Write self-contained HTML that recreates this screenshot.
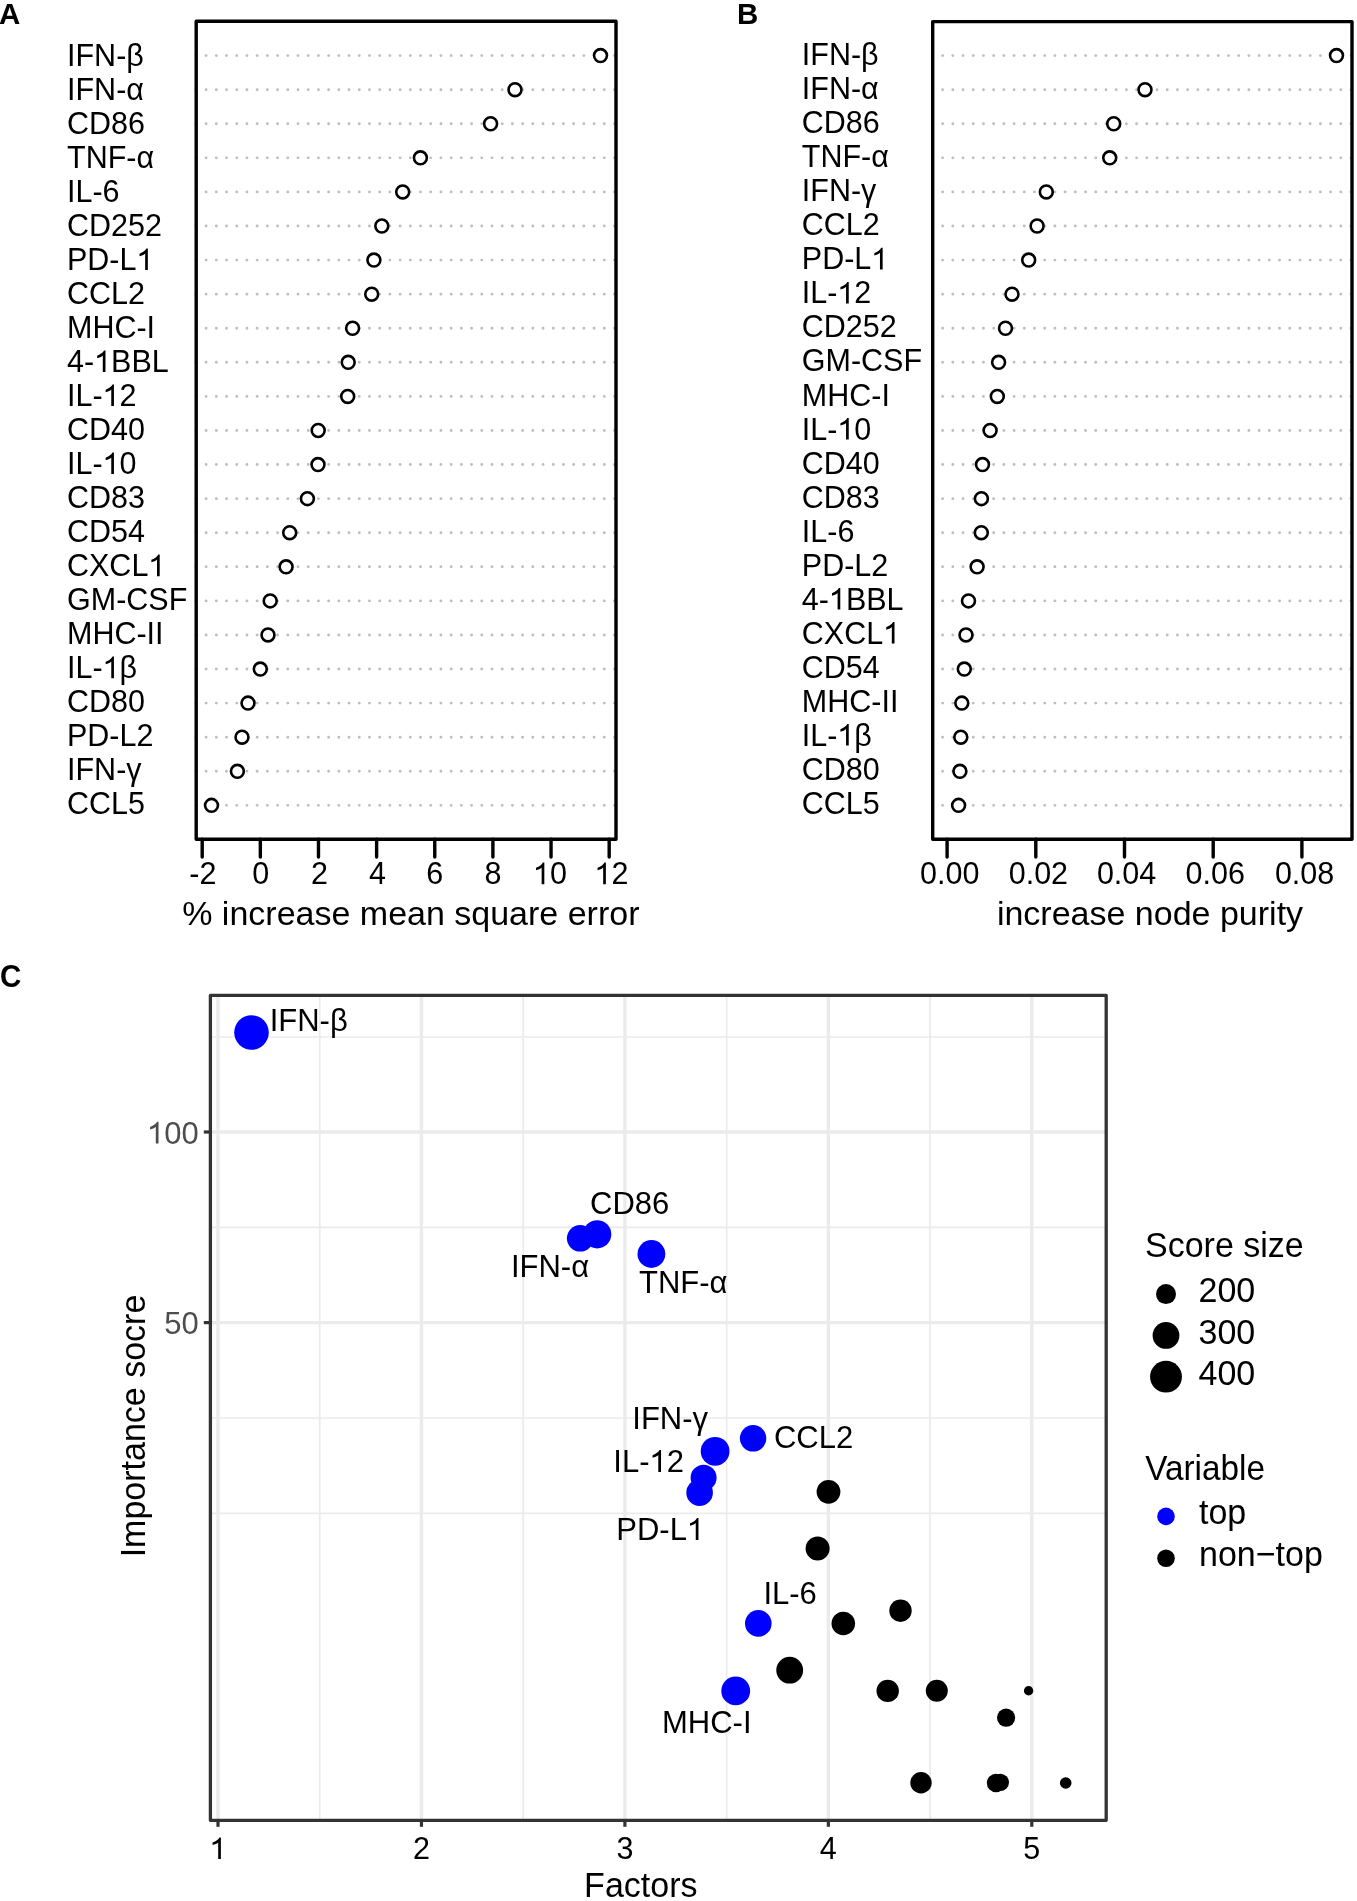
<!DOCTYPE html>
<html><head><meta charset="utf-8"><title>Variable importance</title>
<style>html,body{margin:0;padding:0;background:#fff;width:1357px;height:1901px;overflow:hidden}svg{display:block;will-change:transform}</style>
</head><body>
<svg width="1357" height="1901" viewBox="0 0 1357 1901" font-family='"Liberation Sans", sans-serif'>
<rect width="1357" height="1901" fill="#fff"/>
<text transform="translate(-1.00,24.00) scale(1,1.02)" font-size="29.5" font-weight="bold">A</text>
<text x="737" y="24" font-size="29.5" font-weight="bold">B</text>
<text transform="translate(0.00,987.00) scale(1,1.07)" font-size="29.5" font-weight="bold">C</text>
<line x1="195.90" y1="55.60" x2="616.00" y2="55.60" stroke="#bebebe" stroke-width="2.9" stroke-linecap="round" stroke-dasharray="0 10.21"/>
<line x1="195.90" y1="89.68" x2="616.00" y2="89.68" stroke="#bebebe" stroke-width="2.9" stroke-linecap="round" stroke-dasharray="0 10.21"/>
<line x1="195.90" y1="123.76" x2="616.00" y2="123.76" stroke="#bebebe" stroke-width="2.9" stroke-linecap="round" stroke-dasharray="0 10.21"/>
<line x1="195.90" y1="157.84" x2="616.00" y2="157.84" stroke="#bebebe" stroke-width="2.9" stroke-linecap="round" stroke-dasharray="0 10.21"/>
<line x1="195.90" y1="191.92" x2="616.00" y2="191.92" stroke="#bebebe" stroke-width="2.9" stroke-linecap="round" stroke-dasharray="0 10.21"/>
<line x1="195.90" y1="226.00" x2="616.00" y2="226.00" stroke="#bebebe" stroke-width="2.9" stroke-linecap="round" stroke-dasharray="0 10.21"/>
<line x1="195.90" y1="260.08" x2="616.00" y2="260.08" stroke="#bebebe" stroke-width="2.9" stroke-linecap="round" stroke-dasharray="0 10.21"/>
<line x1="195.90" y1="294.16" x2="616.00" y2="294.16" stroke="#bebebe" stroke-width="2.9" stroke-linecap="round" stroke-dasharray="0 10.21"/>
<line x1="195.90" y1="328.24" x2="616.00" y2="328.24" stroke="#bebebe" stroke-width="2.9" stroke-linecap="round" stroke-dasharray="0 10.21"/>
<line x1="195.90" y1="362.32" x2="616.00" y2="362.32" stroke="#bebebe" stroke-width="2.9" stroke-linecap="round" stroke-dasharray="0 10.21"/>
<line x1="195.90" y1="396.40" x2="616.00" y2="396.40" stroke="#bebebe" stroke-width="2.9" stroke-linecap="round" stroke-dasharray="0 10.21"/>
<line x1="195.90" y1="430.48" x2="616.00" y2="430.48" stroke="#bebebe" stroke-width="2.9" stroke-linecap="round" stroke-dasharray="0 10.21"/>
<line x1="195.90" y1="464.56" x2="616.00" y2="464.56" stroke="#bebebe" stroke-width="2.9" stroke-linecap="round" stroke-dasharray="0 10.21"/>
<line x1="195.90" y1="498.64" x2="616.00" y2="498.64" stroke="#bebebe" stroke-width="2.9" stroke-linecap="round" stroke-dasharray="0 10.21"/>
<line x1="195.90" y1="532.72" x2="616.00" y2="532.72" stroke="#bebebe" stroke-width="2.9" stroke-linecap="round" stroke-dasharray="0 10.21"/>
<line x1="195.90" y1="566.80" x2="616.00" y2="566.80" stroke="#bebebe" stroke-width="2.9" stroke-linecap="round" stroke-dasharray="0 10.21"/>
<line x1="195.90" y1="600.88" x2="616.00" y2="600.88" stroke="#bebebe" stroke-width="2.9" stroke-linecap="round" stroke-dasharray="0 10.21"/>
<line x1="195.90" y1="634.96" x2="616.00" y2="634.96" stroke="#bebebe" stroke-width="2.9" stroke-linecap="round" stroke-dasharray="0 10.21"/>
<line x1="195.90" y1="669.04" x2="616.00" y2="669.04" stroke="#bebebe" stroke-width="2.9" stroke-linecap="round" stroke-dasharray="0 10.21"/>
<line x1="195.90" y1="703.12" x2="616.00" y2="703.12" stroke="#bebebe" stroke-width="2.9" stroke-linecap="round" stroke-dasharray="0 10.21"/>
<line x1="195.90" y1="737.20" x2="616.00" y2="737.20" stroke="#bebebe" stroke-width="2.9" stroke-linecap="round" stroke-dasharray="0 10.21"/>
<line x1="195.90" y1="771.28" x2="616.00" y2="771.28" stroke="#bebebe" stroke-width="2.9" stroke-linecap="round" stroke-dasharray="0 10.21"/>
<line x1="195.90" y1="805.36" x2="616.00" y2="805.36" stroke="#bebebe" stroke-width="2.9" stroke-linecap="round" stroke-dasharray="0 10.21"/>
<circle cx="600.50" cy="55.60" r="6.45" fill="#fff" stroke="#000" stroke-width="2.6"/>
<circle cx="515.00" cy="89.68" r="6.45" fill="#fff" stroke="#000" stroke-width="2.6"/>
<circle cx="490.60" cy="123.76" r="6.45" fill="#fff" stroke="#000" stroke-width="2.6"/>
<circle cx="420.40" cy="157.84" r="6.45" fill="#fff" stroke="#000" stroke-width="2.6"/>
<circle cx="402.70" cy="191.92" r="6.45" fill="#fff" stroke="#000" stroke-width="2.6"/>
<circle cx="381.80" cy="226.00" r="6.45" fill="#fff" stroke="#000" stroke-width="2.6"/>
<circle cx="373.90" cy="260.08" r="6.45" fill="#fff" stroke="#000" stroke-width="2.6"/>
<circle cx="371.70" cy="294.16" r="6.45" fill="#fff" stroke="#000" stroke-width="2.6"/>
<circle cx="352.60" cy="328.24" r="6.45" fill="#fff" stroke="#000" stroke-width="2.6"/>
<circle cx="348.20" cy="362.32" r="6.45" fill="#fff" stroke="#000" stroke-width="2.6"/>
<circle cx="347.70" cy="396.40" r="6.45" fill="#fff" stroke="#000" stroke-width="2.6"/>
<circle cx="318.20" cy="430.48" r="6.45" fill="#fff" stroke="#000" stroke-width="2.6"/>
<circle cx="318.00" cy="464.56" r="6.45" fill="#fff" stroke="#000" stroke-width="2.6"/>
<circle cx="307.40" cy="498.64" r="6.45" fill="#fff" stroke="#000" stroke-width="2.6"/>
<circle cx="289.70" cy="532.72" r="6.45" fill="#fff" stroke="#000" stroke-width="2.6"/>
<circle cx="286.10" cy="566.80" r="6.45" fill="#fff" stroke="#000" stroke-width="2.6"/>
<circle cx="270.20" cy="600.88" r="6.45" fill="#fff" stroke="#000" stroke-width="2.6"/>
<circle cx="268.00" cy="634.96" r="6.45" fill="#fff" stroke="#000" stroke-width="2.6"/>
<circle cx="260.30" cy="669.04" r="6.45" fill="#fff" stroke="#000" stroke-width="2.6"/>
<circle cx="248.00" cy="703.12" r="6.45" fill="#fff" stroke="#000" stroke-width="2.6"/>
<circle cx="242.00" cy="737.20" r="6.45" fill="#fff" stroke="#000" stroke-width="2.6"/>
<circle cx="237.40" cy="771.28" r="6.45" fill="#fff" stroke="#000" stroke-width="2.6"/>
<circle cx="211.50" cy="805.36" r="6.45" fill="#fff" stroke="#000" stroke-width="2.6"/>
<rect x="196.20" y="21.30" width="419.80" height="818.00" fill="none" stroke="#000" stroke-width="3.4" stroke-linejoin="round"/>
<text x="67.00" y="66.00" font-size="30.5">IFN-β</text>
<text x="67.00" y="100.01" font-size="30.5">IFN-α</text>
<text x="67.00" y="134.02" font-size="30.5">CD86</text>
<text x="67.00" y="168.03" font-size="30.5">TNF-α</text>
<text x="67.00" y="202.04" font-size="30.5">IL-6</text>
<text x="67.00" y="236.05" font-size="30.5">CD252</text>
<text x="67.00" y="270.06" font-size="30.5">PD-L </text>
<text x="67.00" y="304.07" font-size="30.5">CCL2</text>
<text x="67.00" y="338.08" font-size="30.5">MHC-I</text>
<text x="67.00" y="372.09" font-size="30.5">4- BBL</text>
<text x="67.00" y="406.10" font-size="30.5">IL- 2</text>
<text x="67.00" y="440.11" font-size="30.5">CD40</text>
<text x="67.00" y="474.12" font-size="30.5">IL- 0</text>
<text x="67.00" y="508.13" font-size="30.5">CD83</text>
<text x="67.00" y="542.14" font-size="30.5">CD54</text>
<text x="67.00" y="576.15" font-size="30.5">CXCL </text>
<text x="67.00" y="610.16" font-size="30.5">GM-CSF</text>
<text x="67.00" y="644.17" font-size="30.5">MHC-II</text>
<text x="67.00" y="678.18" font-size="30.5">IL- β</text>
<text x="67.00" y="712.19" font-size="30.5">CD80</text>
<text x="67.00" y="746.20" font-size="30.5">PD-L2</text>
<text x="67.00" y="780.21" font-size="30.5">IFN-γ</text>
<text x="67.00" y="814.22" font-size="30.5">CCL5</text>
<line x1="202.20" y1="839.30" x2="202.20" y2="857" stroke="#000" stroke-width="3.4" stroke-linecap="round"/>
<text x="202.80" y="884.2" font-size="30.5" text-anchor="middle">-2</text>
<line x1="260.34" y1="839.30" x2="260.34" y2="857" stroke="#000" stroke-width="3.4" stroke-linecap="round"/>
<text x="260.84" y="884.2" font-size="30.5" text-anchor="middle">0</text>
<line x1="318.48" y1="839.30" x2="318.48" y2="857" stroke="#000" stroke-width="3.4" stroke-linecap="round"/>
<text x="319.38" y="884.2" font-size="30.5" text-anchor="middle">2</text>
<line x1="376.62" y1="839.30" x2="376.62" y2="857" stroke="#000" stroke-width="3.4" stroke-linecap="round"/>
<text x="377.52" y="884.2" font-size="30.5" text-anchor="middle">4</text>
<line x1="434.76" y1="839.30" x2="434.76" y2="857" stroke="#000" stroke-width="3.4" stroke-linecap="round"/>
<text x="434.76" y="884.2" font-size="30.5" text-anchor="middle">6</text>
<line x1="492.90" y1="839.30" x2="492.90" y2="857" stroke="#000" stroke-width="3.4" stroke-linecap="round"/>
<text x="492.90" y="884.2" font-size="30.5" text-anchor="middle">8</text>
<line x1="551.04" y1="839.30" x2="551.04" y2="857" stroke="#000" stroke-width="3.4" stroke-linecap="round"/>
<text x="549.94" y="884.2" font-size="30.5" text-anchor="middle"> 0</text>
<line x1="609.18" y1="839.30" x2="609.18" y2="857" stroke="#000" stroke-width="3.4" stroke-linecap="round"/>
<text x="611.48" y="884.2" font-size="30.5" text-anchor="middle"> 2</text>
<text x="410.85" y="925.3" font-size="34" text-anchor="middle">% increase mean square error</text>
<line x1="932.40" y1="55.60" x2="1352.00" y2="55.60" stroke="#bebebe" stroke-width="2.9" stroke-linecap="round" stroke-dasharray="0 10.21"/>
<line x1="932.40" y1="89.68" x2="1352.00" y2="89.68" stroke="#bebebe" stroke-width="2.9" stroke-linecap="round" stroke-dasharray="0 10.21"/>
<line x1="932.40" y1="123.76" x2="1352.00" y2="123.76" stroke="#bebebe" stroke-width="2.9" stroke-linecap="round" stroke-dasharray="0 10.21"/>
<line x1="932.40" y1="157.84" x2="1352.00" y2="157.84" stroke="#bebebe" stroke-width="2.9" stroke-linecap="round" stroke-dasharray="0 10.21"/>
<line x1="932.40" y1="191.92" x2="1352.00" y2="191.92" stroke="#bebebe" stroke-width="2.9" stroke-linecap="round" stroke-dasharray="0 10.21"/>
<line x1="932.40" y1="226.00" x2="1352.00" y2="226.00" stroke="#bebebe" stroke-width="2.9" stroke-linecap="round" stroke-dasharray="0 10.21"/>
<line x1="932.40" y1="260.08" x2="1352.00" y2="260.08" stroke="#bebebe" stroke-width="2.9" stroke-linecap="round" stroke-dasharray="0 10.21"/>
<line x1="932.40" y1="294.16" x2="1352.00" y2="294.16" stroke="#bebebe" stroke-width="2.9" stroke-linecap="round" stroke-dasharray="0 10.21"/>
<line x1="932.40" y1="328.24" x2="1352.00" y2="328.24" stroke="#bebebe" stroke-width="2.9" stroke-linecap="round" stroke-dasharray="0 10.21"/>
<line x1="932.40" y1="362.32" x2="1352.00" y2="362.32" stroke="#bebebe" stroke-width="2.9" stroke-linecap="round" stroke-dasharray="0 10.21"/>
<line x1="932.40" y1="396.40" x2="1352.00" y2="396.40" stroke="#bebebe" stroke-width="2.9" stroke-linecap="round" stroke-dasharray="0 10.21"/>
<line x1="932.40" y1="430.48" x2="1352.00" y2="430.48" stroke="#bebebe" stroke-width="2.9" stroke-linecap="round" stroke-dasharray="0 10.21"/>
<line x1="932.40" y1="464.56" x2="1352.00" y2="464.56" stroke="#bebebe" stroke-width="2.9" stroke-linecap="round" stroke-dasharray="0 10.21"/>
<line x1="932.40" y1="498.64" x2="1352.00" y2="498.64" stroke="#bebebe" stroke-width="2.9" stroke-linecap="round" stroke-dasharray="0 10.21"/>
<line x1="932.40" y1="532.72" x2="1352.00" y2="532.72" stroke="#bebebe" stroke-width="2.9" stroke-linecap="round" stroke-dasharray="0 10.21"/>
<line x1="932.40" y1="566.80" x2="1352.00" y2="566.80" stroke="#bebebe" stroke-width="2.9" stroke-linecap="round" stroke-dasharray="0 10.21"/>
<line x1="932.40" y1="600.88" x2="1352.00" y2="600.88" stroke="#bebebe" stroke-width="2.9" stroke-linecap="round" stroke-dasharray="0 10.21"/>
<line x1="932.40" y1="634.96" x2="1352.00" y2="634.96" stroke="#bebebe" stroke-width="2.9" stroke-linecap="round" stroke-dasharray="0 10.21"/>
<line x1="932.40" y1="669.04" x2="1352.00" y2="669.04" stroke="#bebebe" stroke-width="2.9" stroke-linecap="round" stroke-dasharray="0 10.21"/>
<line x1="932.40" y1="703.12" x2="1352.00" y2="703.12" stroke="#bebebe" stroke-width="2.9" stroke-linecap="round" stroke-dasharray="0 10.21"/>
<line x1="932.40" y1="737.20" x2="1352.00" y2="737.20" stroke="#bebebe" stroke-width="2.9" stroke-linecap="round" stroke-dasharray="0 10.21"/>
<line x1="932.40" y1="771.28" x2="1352.00" y2="771.28" stroke="#bebebe" stroke-width="2.9" stroke-linecap="round" stroke-dasharray="0 10.21"/>
<line x1="932.40" y1="805.36" x2="1352.00" y2="805.36" stroke="#bebebe" stroke-width="2.9" stroke-linecap="round" stroke-dasharray="0 10.21"/>
<circle cx="1336.50" cy="55.60" r="6.45" fill="#fff" stroke="#000" stroke-width="2.6"/>
<circle cx="1145.00" cy="89.68" r="6.45" fill="#fff" stroke="#000" stroke-width="2.6"/>
<circle cx="1113.70" cy="123.76" r="6.45" fill="#fff" stroke="#000" stroke-width="2.6"/>
<circle cx="1109.70" cy="157.84" r="6.45" fill="#fff" stroke="#000" stroke-width="2.6"/>
<circle cx="1046.30" cy="191.92" r="6.45" fill="#fff" stroke="#000" stroke-width="2.6"/>
<circle cx="1037.10" cy="226.00" r="6.45" fill="#fff" stroke="#000" stroke-width="2.6"/>
<circle cx="1028.70" cy="260.08" r="6.45" fill="#fff" stroke="#000" stroke-width="2.6"/>
<circle cx="1012.00" cy="294.16" r="6.45" fill="#fff" stroke="#000" stroke-width="2.6"/>
<circle cx="1005.50" cy="328.24" r="6.45" fill="#fff" stroke="#000" stroke-width="2.6"/>
<circle cx="998.60" cy="362.32" r="6.45" fill="#fff" stroke="#000" stroke-width="2.6"/>
<circle cx="997.30" cy="396.40" r="6.45" fill="#fff" stroke="#000" stroke-width="2.6"/>
<circle cx="990.10" cy="430.48" r="6.45" fill="#fff" stroke="#000" stroke-width="2.6"/>
<circle cx="982.50" cy="464.56" r="6.45" fill="#fff" stroke="#000" stroke-width="2.6"/>
<circle cx="981.40" cy="498.64" r="6.45" fill="#fff" stroke="#000" stroke-width="2.6"/>
<circle cx="981.30" cy="532.72" r="6.45" fill="#fff" stroke="#000" stroke-width="2.6"/>
<circle cx="977.10" cy="566.80" r="6.45" fill="#fff" stroke="#000" stroke-width="2.6"/>
<circle cx="968.50" cy="600.88" r="6.45" fill="#fff" stroke="#000" stroke-width="2.6"/>
<circle cx="966.00" cy="634.96" r="6.45" fill="#fff" stroke="#000" stroke-width="2.6"/>
<circle cx="964.30" cy="669.04" r="6.45" fill="#fff" stroke="#000" stroke-width="2.6"/>
<circle cx="961.80" cy="703.12" r="6.45" fill="#fff" stroke="#000" stroke-width="2.6"/>
<circle cx="960.80" cy="737.20" r="6.45" fill="#fff" stroke="#000" stroke-width="2.6"/>
<circle cx="959.90" cy="771.28" r="6.45" fill="#fff" stroke="#000" stroke-width="2.6"/>
<circle cx="958.60" cy="805.36" r="6.45" fill="#fff" stroke="#000" stroke-width="2.6"/>
<rect x="932.70" y="21.60" width="419.30" height="817.60" fill="none" stroke="#000" stroke-width="3.4" stroke-linejoin="round"/>
<text x="801.80" y="65.40" font-size="30.5">IFN-β</text>
<text x="801.80" y="99.41" font-size="30.5">IFN-α</text>
<text x="801.80" y="133.42" font-size="30.5">CD86</text>
<text x="801.80" y="167.43" font-size="30.5">TNF-α</text>
<text x="801.80" y="201.44" font-size="30.5">IFN-γ</text>
<text x="801.80" y="235.45" font-size="30.5">CCL2</text>
<text x="801.80" y="269.46" font-size="30.5">PD-L </text>
<text x="801.80" y="303.47" font-size="30.5">IL- 2</text>
<text x="801.80" y="337.48" font-size="30.5">CD252</text>
<text x="801.80" y="371.49" font-size="30.5">GM-CSF</text>
<text x="801.80" y="405.50" font-size="30.5">MHC-I</text>
<text x="801.80" y="439.51" font-size="30.5">IL- 0</text>
<text x="801.80" y="473.52" font-size="30.5">CD40</text>
<text x="801.80" y="507.53" font-size="30.5">CD83</text>
<text x="801.80" y="541.54" font-size="30.5">IL-6</text>
<text x="801.80" y="575.55" font-size="30.5">PD-L2</text>
<text x="801.80" y="609.56" font-size="30.5">4- BBL</text>
<text x="801.80" y="643.57" font-size="30.5">CXCL </text>
<text x="801.80" y="677.58" font-size="30.5">CD54</text>
<text x="801.80" y="711.59" font-size="30.5">MHC-II</text>
<text x="801.80" y="745.60" font-size="30.5">IL- β</text>
<text x="801.80" y="779.61" font-size="30.5">CD80</text>
<text x="801.80" y="813.62" font-size="30.5">CCL5</text>
<line x1="947.10" y1="839.20" x2="947.10" y2="857" stroke="#000" stroke-width="3.4" stroke-linecap="round"/>
<text x="949.70" y="884.2" font-size="30.5" text-anchor="middle">0.00</text>
<line x1="1035.80" y1="839.20" x2="1035.80" y2="857" stroke="#000" stroke-width="3.4" stroke-linecap="round"/>
<text x="1038.40" y="884.2" font-size="30.5" text-anchor="middle">0.02</text>
<line x1="1124.50" y1="839.20" x2="1124.50" y2="857" stroke="#000" stroke-width="3.4" stroke-linecap="round"/>
<text x="1126.60" y="884.2" font-size="30.5" text-anchor="middle">0.04</text>
<line x1="1213.20" y1="839.20" x2="1213.20" y2="857" stroke="#000" stroke-width="3.4" stroke-linecap="round"/>
<text x="1215.30" y="884.2" font-size="30.5" text-anchor="middle">0.06</text>
<line x1="1301.90" y1="839.20" x2="1301.90" y2="857" stroke="#000" stroke-width="3.4" stroke-linecap="round"/>
<text x="1304.60" y="884.2" font-size="30.5" text-anchor="middle">0.08</text>
<text x="1150.00" y="925.3" font-size="34" text-anchor="middle">increase node purity</text>
<line x1="319.73" y1="995.3" x2="319.73" y2="1820.3" stroke="#ebebeb" stroke-width="1.7"/>
<line x1="523.17" y1="995.3" x2="523.17" y2="1820.3" stroke="#ebebeb" stroke-width="1.7"/>
<line x1="726.62" y1="995.3" x2="726.62" y2="1820.3" stroke="#ebebeb" stroke-width="1.7"/>
<line x1="930.07" y1="995.3" x2="930.07" y2="1820.3" stroke="#ebebeb" stroke-width="1.7"/>
<line x1="210.4" y1="1037.0" x2="1106.2" y2="1037.0" stroke="#ebebeb" stroke-width="1.7"/>
<line x1="210.4" y1="1227.3" x2="1106.2" y2="1227.3" stroke="#ebebeb" stroke-width="1.7"/>
<line x1="210.4" y1="1418.0" x2="1106.2" y2="1418.0" stroke="#ebebeb" stroke-width="1.7"/>
<line x1="210.4" y1="1513.4" x2="1106.2" y2="1513.4" stroke="#ebebeb" stroke-width="1.7"/>
<line x1="218.00" y1="995.3" x2="218.00" y2="1820.3" stroke="#ebebeb" stroke-width="3.4"/>
<line x1="421.45" y1="995.3" x2="421.45" y2="1820.3" stroke="#ebebeb" stroke-width="3.4"/>
<line x1="624.90" y1="995.3" x2="624.90" y2="1820.3" stroke="#ebebeb" stroke-width="3.4"/>
<line x1="828.35" y1="995.3" x2="828.35" y2="1820.3" stroke="#ebebeb" stroke-width="3.4"/>
<line x1="1031.80" y1="995.3" x2="1031.80" y2="1820.3" stroke="#ebebeb" stroke-width="3.4"/>
<line x1="210.4" y1="1132.0" x2="1106.2" y2="1132.0" stroke="#ebebeb" stroke-width="3.4"/>
<line x1="210.4" y1="1322.6" x2="1106.2" y2="1322.6" stroke="#ebebeb" stroke-width="3.4"/>
<circle cx="251.5" cy="1032.5" r="17.3" fill="#0000ff"/>
<circle cx="580.2" cy="1238.3" r="13.3" fill="#0000ff"/>
<circle cx="597.2" cy="1234.3" r="14.1" fill="#0000ff"/>
<circle cx="651.4" cy="1254.0" r="13.9" fill="#0000ff"/>
<circle cx="753.1" cy="1438.3" r="13.2" fill="#0000ff"/>
<circle cx="715.1" cy="1451.3" r="14.4" fill="#0000ff"/>
<circle cx="703.6" cy="1477.7" r="13.0" fill="#0000ff"/>
<circle cx="699.6" cy="1492.7" r="13.3" fill="#0000ff"/>
<circle cx="828.5" cy="1491.8" r="11.9" fill="#000"/>
<circle cx="817.6" cy="1548.5" r="12.0" fill="#000"/>
<circle cx="758.3" cy="1623.4" r="13.3" fill="#0000ff"/>
<circle cx="843.3" cy="1623.5" r="11.8" fill="#000"/>
<circle cx="900.5" cy="1610.7" r="11.2" fill="#000"/>
<circle cx="789.7" cy="1670.2" r="13.4" fill="#000"/>
<circle cx="735.7" cy="1690.9" r="14.4" fill="#0000ff"/>
<circle cx="887.7" cy="1690.9" r="11.2" fill="#000"/>
<circle cx="936.8" cy="1690.7" r="11.0" fill="#000"/>
<circle cx="1028.6" cy="1690.8" r="4.7" fill="#000"/>
<circle cx="1006.1" cy="1717.7" r="9.1" fill="#000"/>
<circle cx="921.0" cy="1782.7" r="10.7" fill="#000"/>
<circle cx="996.0" cy="1783.0" r="9.2" fill="#000"/>
<circle cx="1000.3" cy="1782.4" r="8.7" fill="#000"/>
<circle cx="1065.7" cy="1783.0" r="5.8" fill="#000"/>
<text x="269.70" y="1031.00" font-size="31">IFN-β</text>
<text x="590.00" y="1214.40" font-size="31">CD86</text>
<text x="510.90" y="1277.30" font-size="31">IFN-α</text>
<text x="639.00" y="1292.80" font-size="31">TNF-α</text>
<text x="632.30" y="1428.60" font-size="31">IFN-γ</text>
<text x="773.90" y="1448.40" font-size="31">CCL2</text>
<text x="613.30" y="1471.90" font-size="31">IL- 2</text>
<text x="616.30" y="1540.00" font-size="31">PD-L </text>
<text x="763.40" y="1604.20" font-size="31">IL-6</text>
<text x="662.00" y="1732.70" font-size="31">MHC-I</text>
<rect x="210.4" y="995.3" width="895.80" height="825.00" fill="none" stroke="#333" stroke-width="3.3" stroke-linejoin="round"/>
<line x1="203.8" y1="1132.0" x2="210.4" y2="1132.0" stroke="#333" stroke-width="3.2"/>
<text x="198.7" y="1143.60" font-size="31" fill="#4d4d4d" text-anchor="end"> 00</text>
<line x1="203.8" y1="1322.6" x2="210.4" y2="1322.6" stroke="#333" stroke-width="3.2"/>
<text x="198.7" y="1334.20" font-size="31" fill="#4d4d4d" text-anchor="end">50</text>
<line x1="218.00" y1="1820.3" x2="218.00" y2="1826.8" stroke="#333" stroke-width="3.2"/>
<text x="218.00" y="1859" font-size="30.5" text-anchor="middle"> </text>
<line x1="421.45" y1="1820.3" x2="421.45" y2="1826.8" stroke="#333" stroke-width="3.2"/>
<text x="421.45" y="1859" font-size="30.5" text-anchor="middle">2</text>
<line x1="624.90" y1="1820.3" x2="624.90" y2="1826.8" stroke="#333" stroke-width="3.2"/>
<text x="624.90" y="1859" font-size="30.5" text-anchor="middle">3</text>
<line x1="828.35" y1="1820.3" x2="828.35" y2="1826.8" stroke="#333" stroke-width="3.2"/>
<text x="828.35" y="1859" font-size="30.5" text-anchor="middle">4</text>
<line x1="1031.80" y1="1820.3" x2="1031.80" y2="1826.8" stroke="#333" stroke-width="3.2"/>
<text x="1031.80" y="1859" font-size="30.5" text-anchor="middle">5</text>
<text transform="translate(640.80,1896.60) scale(1,1.05)" font-size="34" text-anchor="middle">Factors</text>
<text transform="translate(145.00,1426.00) rotate(-90) scale(1,1.05)" font-size="34" text-anchor="middle">Importance socre</text>
<text transform="translate(1145.00,1257.10) scale(1,1.05)" font-size="34">Score size</text>
<circle cx="1166" cy="1294.1" r="10.0" fill="#000"/>
<text transform="translate(1198.50,1302.40) scale(1,1.05)" font-size="34">200</text>
<circle cx="1166" cy="1335.4" r="13.4" fill="#000"/>
<text transform="translate(1198.50,1343.70) scale(1,1.05)" font-size="34">300</text>
<circle cx="1166" cy="1376.7" r="15.9" fill="#000"/>
<text transform="translate(1198.50,1385.00) scale(1,1.05)" font-size="34">400</text>
<text transform="translate(1145.30,1479.80) scale(1,1.05)" font-size="33.3">Variable</text>
<circle cx="1166" cy="1516.4" r="8.8" fill="#0000ff"/>
<text transform="translate(1199.00,1523.60) scale(1,1.05)" font-size="34">top</text>
<circle cx="1166" cy="1558.3" r="8.8" fill="#000"/>
<text transform="translate(1199.00,1565.50) scale(1,1.05)" font-size="34">non−top</text>
<path transform="matrix(1.0000 0.0000 0.0000 1.0000 0.0000 0.0000) translate(136.48,270.06) scale(0.01489,-0.01489)" fill="#000" d="M763 0H583V1116Q518 1055 412 1000Q306 955 205 935V1100Q381 1160 499 1260Q617 1360 666 1450H763Z"/>
<path transform="matrix(1.0000 0.0000 0.0000 1.0000 0.0000 0.0000) translate(94.11,372.09) scale(0.01489,-0.01489)" fill="#000" d="M763 0H583V1116Q518 1055 412 1000Q306 955 205 935V1100Q381 1160 499 1260Q617 1360 666 1450H763Z"/>
<path transform="matrix(1.0000 0.0000 0.0000 1.0000 0.0000 0.0000) translate(102.58,406.10) scale(0.01489,-0.01489)" fill="#000" d="M763 0H583V1116Q518 1055 412 1000Q306 955 205 935V1100Q381 1160 499 1260Q617 1360 666 1450H763Z"/>
<path transform="matrix(1.0000 0.0000 0.0000 1.0000 0.0000 0.0000) translate(102.58,474.12) scale(0.01489,-0.01489)" fill="#000" d="M763 0H583V1116Q518 1055 412 1000Q306 955 205 935V1100Q381 1160 499 1260Q617 1360 666 1450H763Z"/>
<path transform="matrix(1.0000 0.0000 0.0000 1.0000 0.0000 0.0000) translate(148.34,576.15) scale(0.01489,-0.01489)" fill="#000" d="M763 0H583V1116Q518 1055 412 1000Q306 955 205 935V1100Q381 1160 499 1260Q617 1360 666 1450H763Z"/>
<path transform="matrix(1.0000 0.0000 0.0000 1.0000 0.0000 0.0000) translate(102.58,678.18) scale(0.01489,-0.01489)" fill="#000" d="M763 0H583V1116Q518 1055 412 1000Q306 955 205 935V1100Q381 1160 499 1260Q617 1360 666 1450H763Z"/>
<path transform="matrix(1.0000 0.0000 0.0000 1.0000 0.0000 0.0000) translate(532.97,884.20) scale(0.01489,-0.01489)" fill="#000" d="M763 0H583V1116Q518 1055 412 1000Q306 955 205 935V1100Q381 1160 499 1260Q617 1360 666 1450H763Z"/>
<path transform="matrix(1.0000 0.0000 0.0000 1.0000 0.0000 0.0000) translate(594.51,884.20) scale(0.01489,-0.01489)" fill="#000" d="M763 0H583V1116Q518 1055 412 1000Q306 955 205 935V1100Q381 1160 499 1260Q617 1360 666 1450H763Z"/>
<path transform="matrix(1.0000 0.0000 0.0000 1.0000 0.0000 0.0000) translate(871.28,269.46) scale(0.01489,-0.01489)" fill="#000" d="M763 0H583V1116Q518 1055 412 1000Q306 955 205 935V1100Q381 1160 499 1260Q617 1360 666 1450H763Z"/>
<path transform="matrix(1.0000 0.0000 0.0000 1.0000 0.0000 0.0000) translate(837.38,303.47) scale(0.01489,-0.01489)" fill="#000" d="M763 0H583V1116Q518 1055 412 1000Q306 955 205 935V1100Q381 1160 499 1260Q617 1360 666 1450H763Z"/>
<path transform="matrix(1.0000 0.0000 0.0000 1.0000 0.0000 0.0000) translate(837.38,439.51) scale(0.01489,-0.01489)" fill="#000" d="M763 0H583V1116Q518 1055 412 1000Q306 955 205 935V1100Q381 1160 499 1260Q617 1360 666 1450H763Z"/>
<path transform="matrix(1.0000 0.0000 0.0000 1.0000 0.0000 0.0000) translate(828.91,609.56) scale(0.01489,-0.01489)" fill="#000" d="M763 0H583V1116Q518 1055 412 1000Q306 955 205 935V1100Q381 1160 499 1260Q617 1360 666 1450H763Z"/>
<path transform="matrix(1.0000 0.0000 0.0000 1.0000 0.0000 0.0000) translate(883.14,643.57) scale(0.01489,-0.01489)" fill="#000" d="M763 0H583V1116Q518 1055 412 1000Q306 955 205 935V1100Q381 1160 499 1260Q617 1360 666 1450H763Z"/>
<path transform="matrix(1.0000 0.0000 0.0000 1.0000 0.0000 0.0000) translate(837.38,745.60) scale(0.01489,-0.01489)" fill="#000" d="M763 0H583V1116Q518 1055 412 1000Q306 955 205 935V1100Q381 1160 499 1260Q617 1360 666 1450H763Z"/>
<path transform="matrix(1.0000 0.0000 0.0000 1.0000 0.0000 0.0000) translate(649.47,1471.90) scale(0.01514,-0.01514)" fill="#000" d="M763 0H583V1116Q518 1055 412 1000Q306 955 205 935V1100Q381 1160 499 1260Q617 1360 666 1450H763Z"/>
<path transform="matrix(1.0000 0.0000 0.0000 1.0000 0.0000 0.0000) translate(686.92,1540.00) scale(0.01514,-0.01514)" fill="#000" d="M763 0H583V1116Q518 1055 412 1000Q306 955 205 935V1100Q381 1160 499 1260Q617 1360 666 1450H763Z"/>
<path transform="matrix(1.0000 0.0000 0.0000 1.0000 0.0000 0.0000) translate(146.97,1143.60) scale(0.01514,-0.01514)" fill="#4d4d4d" d="M763 0H583V1116Q518 1055 412 1000Q306 955 205 935V1100Q381 1160 499 1260Q617 1360 666 1450H763Z"/>
<path transform="matrix(1.0000 0.0000 0.0000 1.0000 0.0000 0.0000) translate(209.52,1859.00) scale(0.01489,-0.01489)" fill="#000" d="M763 0H583V1116Q518 1055 412 1000Q306 955 205 935V1100Q381 1160 499 1260Q617 1360 666 1450H763Z"/>
</svg>
</body></html>
